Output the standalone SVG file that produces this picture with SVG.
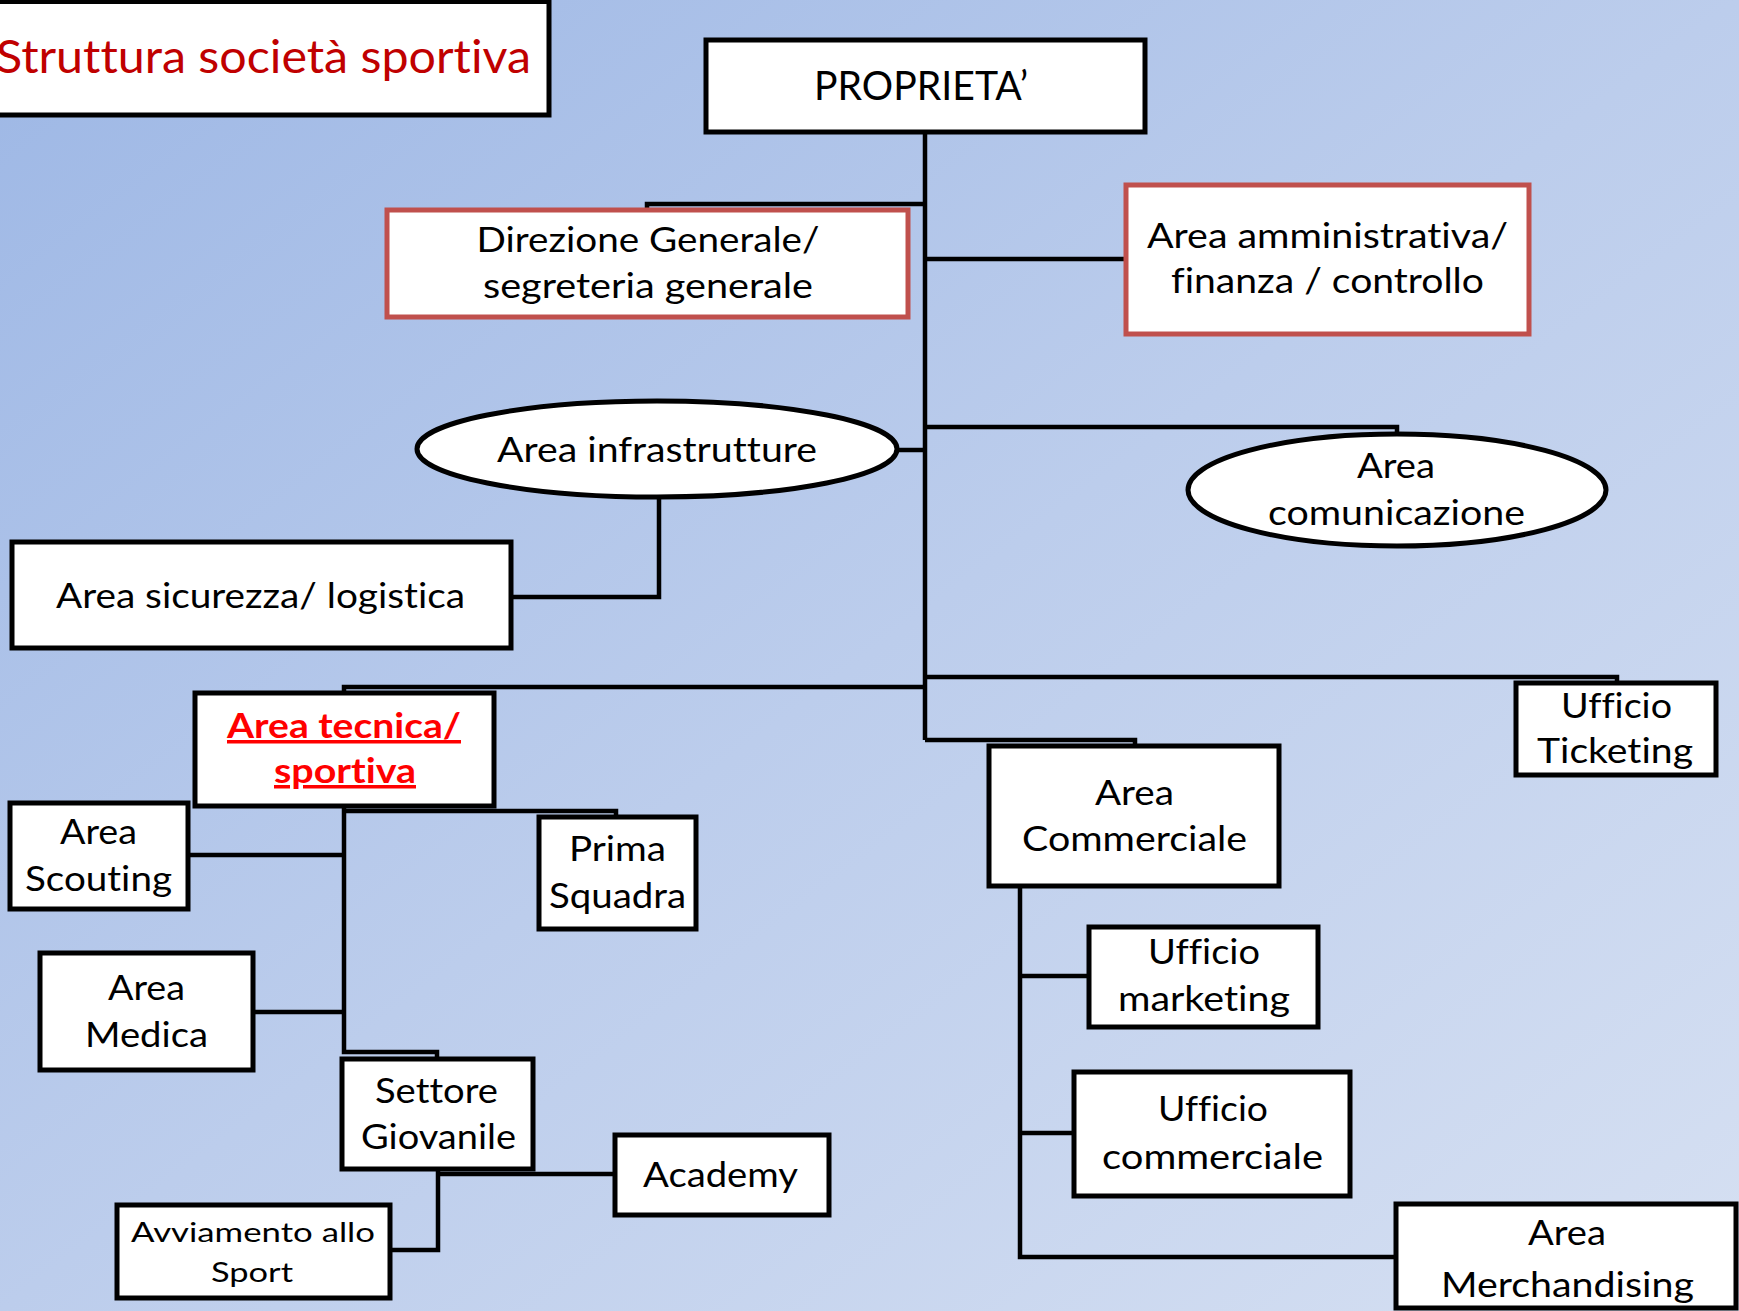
<svg xmlns="http://www.w3.org/2000/svg" width="1739" height="1311" viewBox="0 0 1739 1311">
  <defs>
    <linearGradient id="bg" x1="0" y1="0" x2="1" y2="1">
      <stop offset="0" stop-color="#9DB7E5"/>
      <stop offset="0.5" stop-color="#BCCDEC"/>
      <stop offset="1" stop-color="#D6E0F2"/>
    </linearGradient>
    <style>
      .box { fill: #FFFFFF; stroke: #000000; stroke-width: 5; }
      .rbox { fill: #FFFFFF; stroke: #C0504D; stroke-width: 5; }
      .oval { fill: #FFFFFF; stroke: #000000; stroke-width: 5; }
      .wire { fill: none; stroke: #000000; stroke-width: 4.5; stroke-linejoin: miter; }
      text { font-family: Lato, "Liberation Sans", sans-serif; font-size: 35px; fill: #000000; text-anchor: middle;
             font-variant-ligatures: none; font-feature-settings: "liga" 0, "clig" 0, "dlig" 0; }
      .title { font-size: 47px; fill: #C00000; text-anchor: start; }
      .big { font-size: 40px; }
      .small { font-size: 27px; }
      .hot { font-weight: bold; fill: #FF0000; text-decoration: underline; }
    </style>
  </defs>

  <rect width="1739" height="1311" fill="url(#bg)"/>

  <!-- connectors -->
  <g id="connectors">
    <path class="wire" d="M925 132 V740"/>
    <path class="wire" d="M925 204 H647 V210"/>
    <path class="wire" d="M925 259 H1126"/>
    <path class="wire" d="M897 450 H925"/>
    <path class="wire" d="M659 497 V597 H511"/>
    <path class="wire" d="M925 427 H1397 V434"/>
    <path class="wire" d="M925 677 H1617 V683"/>
    <path class="wire" d="M925 687 H344 V693"/>
    <path class="wire" d="M925 740 H1135 V746"/>
    <path class="wire" d="M344 806 V1052 H437 V1059"/>
    <path class="wire" d="M344 811 H616 V817"/>
    <path class="wire" d="M188 855 H344"/>
    <path class="wire" d="M253 1012 H344"/>
    <path class="wire" d="M438 1169 V1250 H390"/>
    <path class="wire" d="M438 1174 H615"/>
    <path class="wire" d="M1020 886 V1257 H1396"/>
    <path class="wire" d="M1020 976 H1089"/>
    <path class="wire" d="M1020 1133 H1074"/>
  </g>

  <g id="title">
    <rect class="box" x="-10" y="1.5" width="559" height="113.5"/>
    <text class="title" x="-4" y="73" textLength="535" lengthAdjust="spacingAndGlyphs">Struttura società sportiva</text>
  </g>

  <g id="proprieta">
    <rect class="box" x="706" y="40" width="439" height="92"/>
    <text class="big" x="921" y="100" textLength="214" lengthAdjust="spacingAndGlyphs">PROPRIETA’</text>
  </g>

  <g id="direzione">
    <rect class="rbox" x="387" y="210" width="521" height="107"/>
    <text x="648" y="252" textLength="343" lengthAdjust="spacingAndGlyphs">Direzione Generale/</text>
    <text x="648" y="298" textLength="330" lengthAdjust="spacingAndGlyphs">segreteria generale</text>
  </g>

  <g id="amministrativa">
    <rect class="rbox" x="1126" y="185" width="403" height="149"/>
    <text x="1327.5" y="248" textLength="361" lengthAdjust="spacingAndGlyphs">Area amministrativa/</text>
    <text x="1327.5" y="293" textLength="313" lengthAdjust="spacingAndGlyphs">finanza / controllo</text>
  </g>

  <g id="infrastrutture">
    <ellipse class="oval" cx="657" cy="449" rx="240" ry="48"/>
    <text x="657" y="462" textLength="320" lengthAdjust="spacingAndGlyphs">Area infrastrutture</text>
  </g>

  <g id="sicurezza">
    <rect class="box" x="12" y="542" width="499" height="106"/>
    <text x="260.5" y="608" textLength="409" lengthAdjust="spacingAndGlyphs">Area sicurezza/ logistica</text>
  </g>

  <g id="comunicazione">
    <ellipse class="oval" cx="1397" cy="490" rx="209" ry="56"/>
    <text x="1396" y="478" textLength="78" lengthAdjust="spacingAndGlyphs">Area</text>
    <text x="1396.5" y="525" textLength="257" lengthAdjust="spacingAndGlyphs">comunicazione</text>
  </g>

  <g id="ticketing">
    <rect class="box" x="1516" y="683" width="200" height="92"/>
    <text x="1616.5" y="718" textLength="111" lengthAdjust="spacingAndGlyphs">Ufficio</text>
    <text x="1615" y="763" textLength="156" lengthAdjust="spacingAndGlyphs">Ticketing</text>
  </g>

  <g id="tecnica">
    <rect class="box" x="195" y="693" width="299" height="113"/>
    <text class="hot" x="344" y="738" textLength="234" lengthAdjust="spacingAndGlyphs">Area tecnica/</text>
    <text class="hot" x="345" y="783" textLength="142" lengthAdjust="spacingAndGlyphs">sportiva</text>
  </g>

  <g id="prima-squadra">
    <rect class="box" x="539" y="817" width="157" height="112"/>
    <text x="617.5" y="861" textLength="97" lengthAdjust="spacingAndGlyphs">Prima</text>
    <text x="617.5" y="908" textLength="137" lengthAdjust="spacingAndGlyphs">Squadra</text>
  </g>

  <g id="scouting">
    <rect class="box" x="10" y="803" width="178" height="106"/>
    <text x="98.5" y="844" textLength="77" lengthAdjust="spacingAndGlyphs">Area</text>
    <text x="98.5" y="891" textLength="147" lengthAdjust="spacingAndGlyphs">Scouting</text>
  </g>

  <g id="medica">
    <rect class="box" x="40" y="953" width="213" height="117"/>
    <text x="146.5" y="1000" textLength="77" lengthAdjust="spacingAndGlyphs">Area</text>
    <text x="146.5" y="1047" textLength="123" lengthAdjust="spacingAndGlyphs">Medica</text>
  </g>

  <g id="settore-giovanile">
    <rect class="box" x="342" y="1059" width="191" height="110"/>
    <text x="436.5" y="1103" textLength="123" lengthAdjust="spacingAndGlyphs">Settore</text>
    <text x="438.5" y="1149" textLength="155" lengthAdjust="spacingAndGlyphs">Giovanile</text>
  </g>

  <g id="academy">
    <rect class="box" x="615" y="1135" width="214" height="80"/>
    <text x="720.5" y="1187" textLength="155" lengthAdjust="spacingAndGlyphs">Academy</text>
  </g>

  <g id="avviamento">
    <rect class="box" x="117" y="1205" width="273" height="93"/>
    <text class="small" x="253" y="1242" textLength="244" lengthAdjust="spacingAndGlyphs">Avviamento allo</text>
    <text class="small" x="252" y="1282" textLength="82" lengthAdjust="spacingAndGlyphs">Sport</text>
  </g>

  <g id="commerciale">
    <rect class="box" x="989" y="746" width="290" height="140"/>
    <text x="1134.5" y="805" textLength="79" lengthAdjust="spacingAndGlyphs">Area</text>
    <text x="1134.5" y="851" textLength="225" lengthAdjust="spacingAndGlyphs">Commerciale</text>
  </g>

  <g id="marketing">
    <rect class="box" x="1089" y="927" width="229" height="100"/>
    <text x="1204" y="964" textLength="112" lengthAdjust="spacingAndGlyphs">Ufficio</text>
    <text x="1204" y="1011" textLength="172" lengthAdjust="spacingAndGlyphs">marketing</text>
  </g>

  <g id="ufficio-commerciale">
    <rect class="box" x="1074" y="1072" width="276" height="124"/>
    <text x="1213" y="1121" textLength="110" lengthAdjust="spacingAndGlyphs">Ufficio</text>
    <text x="1212.5" y="1169" textLength="221" lengthAdjust="spacingAndGlyphs">commerciale</text>
  </g>

  <g id="merchandising">
    <rect class="box" x="1396" y="1204" width="340" height="104"/>
    <text x="1567" y="1245" textLength="78" lengthAdjust="spacingAndGlyphs">Area</text>
    <text x="1567.5" y="1297" textLength="253" lengthAdjust="spacingAndGlyphs">Merchandising</text>
  </g>
</svg>
